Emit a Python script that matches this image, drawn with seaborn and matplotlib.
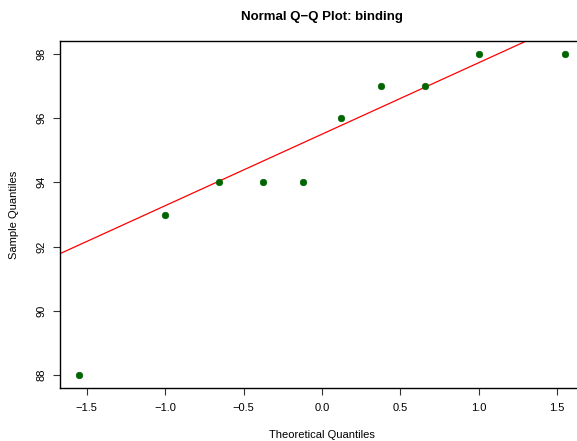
import matplotlib
matplotlib.use('Agg')
import matplotlib.pyplot as plt
import seaborn as sns
import pandas as pd

# valores
teorico = [-1.547, -1.0, -0.655, -0.375, -0.123, 0.123, 0.375, 0.655, 1.0, 1.547]
amostra = [88, 93, 94, 94, 94, 96, 97, 97, 98, 98]
# quartis usados pela reta de referência (qqline)
quartis_teoricos = [-0.674, 0.674]
quartis_amostra = [94, 97]

x_ticks = [-1.5, -1.0, -0.5, 0.0, 0.5, 1.0, 1.5]
y_ticks = [88, 90, 92, 94, 96, 98]

df = pd.DataFrame({'teorico': teorico, 'amostra': amostra})

sns.set_style('ticks')
plt.rcParams['font.family'] = ['Liberation Sans', 'DejaVu Sans']
plt.rcParams['text.color'] = 'black'
plt.rcParams['axes.labelcolor'] = 'black'
plt.rcParams['xtick.labelcolor'] = 'black'
plt.rcParams['ytick.labelcolor'] = 'black'

fig = plt.figure(figsize=(5.77, 4.41), dpi=100)
# a caixa do R passa da borda direita da imagem
ax = fig.add_axes([60 / 577, 1 - 388 / 441, 524 / 577, 347 / 441])

sns.scatterplot(x='teorico', y='amostra', data=df, ax=ax, color='#006400',
                s=22, edgecolor='#006400', linewidth=0.5, zorder=3)

inclinacao = (quartis_amostra[1] - quartis_amostra[0]) / (quartis_teoricos[1] - quartis_teoricos[0])
ax.axline((quartis_teoricos[0], quartis_amostra[0]), slope=inclinacao, color='red', linewidth=0.9)

ax.set_xlim(-1.671, 1.671)
ax.set_ylim(87.6, 98.4)
ax.set_xticks(x_ticks)
ax.set_xticklabels([f'{v:.1f}'.replace('-', '\u2212') for v in x_ticks])
ax.set_yticks(y_ticks)
ax.set_yticklabels([str(v) for v in y_ticks], rotation=90, va='center')
ax.tick_params(axis='both', direction='out', length=5, width=0.8, labelsize=8, color='#333333')
ax.tick_params(axis='x', pad=6)
ax.tick_params(axis='y', pad=5)

for lado in ['left', 'bottom', 'top', 'right']:
    ax.spines[lado].set_visible(True)
    ax.spines[lado].set_linewidth(1)
    ax.spines[lado].set_color('black')

ax.set_xlabel('Theoretical Quantiles', fontsize=8, labelpad=12)
ax.set_ylabel('Sample Quantiles', fontsize=8, labelpad=12)
ax.set_title('Normal Q\u2212Q Plot: binding', fontsize=9.5, fontweight='bold', pad=15)

plt.savefig('out.png', dpi=100)
